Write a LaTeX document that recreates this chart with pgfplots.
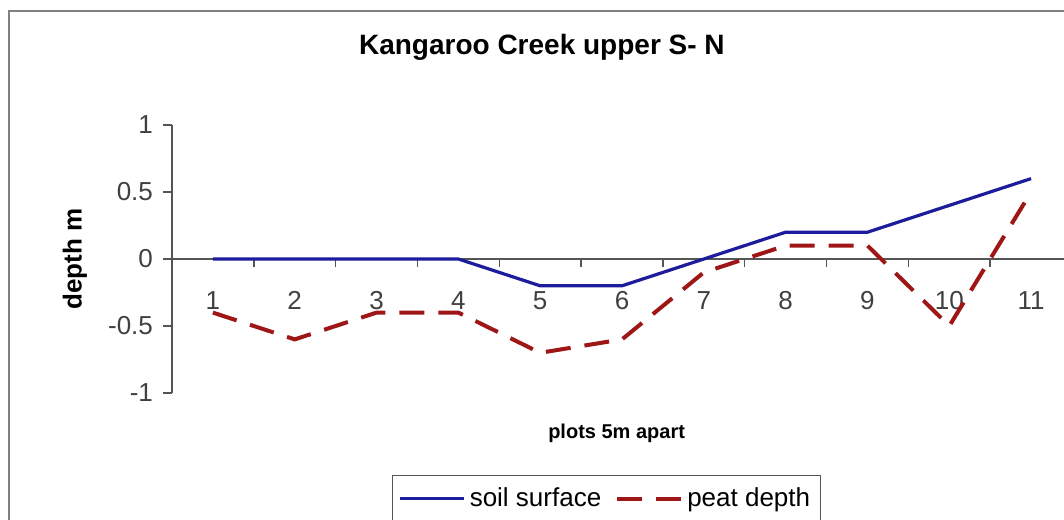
\documentclass[border=0pt]{standalone}
\usepackage{fontspec}
\setmainfont{Liberation Sans}
\usepackage{pgfplots}
\pgfplotsset{compat=1.18}
\definecolor{soil}{HTML}{1C1C9C}
\definecolor{peat}{HTML}{9E1616}
\definecolor{framegray}{HTML}{808080}
\definecolor{axisgray}{HTML}{555555}

\begin{document}
\begin{tikzpicture}
\useasboundingbox (0,0) rectangle (532pt,-259.5pt);
\draw[framegray, line width=0.8pt] (4.5pt,-5.5pt) rectangle (545pt,-275pt);
\begin{axis}[
  at={(86pt,-196.5pt)}, anchor=south west,
  scale only axis, width=450pt, height=134pt,
  xmin=0.5, xmax=11.5, ymin=-1, ymax=1,
  axis x line=middle, axis y line=left,
  axis line style={-, axisgray, line width=0.75pt},
  xtick={1,...,11}, minor xtick={1.5,2.5,...,10.5},
  ytick={-1,-0.5,0,0.5,1}, yticklabels={-1,-0.5,0,0.5,1},
  tick align=outside, major tick length=4.5pt, minor tick length=4pt,
  major x tick style={draw=none},
  minor x tick style={axisgray, line width=0.75pt},
  y tick style={axisgray, line width=0.75pt},
  /pgf/number format/assume math mode=true,
  tick label style={font=\fontsize{13}{15}\selectfont, text=black!75},
  xticklabel style={anchor=base, yshift=-20.5pt},
  yticklabel style={xshift=-1.5pt},
  title={\bfseries Kangaroo Creek upper S- N},
  title style={font=\fontsize{14}{16}\selectfont, at={(axis description cs:0.411,1.22)}, anchor=base},
  ylabel={\bfseries depth m},
  ylabel style={font=\fontsize{13}{15}\selectfont, at={(axis description cs:-0.1078,0.5)}, anchor=center, rotate=0},
  xlabel={\bfseries plots 5m apart},
  xlabel style={font=\fontsize{10}{12}\selectfont, at={(axis description cs:0.494,-0.149)}, anchor=center},
  legend columns=2,
  legend style={at={(axis description cs:0.2444,-0.306)}, anchor=north west,
    draw=axisgray, line width=0.6pt, font=\fontsize{13}{15}\selectfont,
    inner xsep=3pt, inner ysep=4pt,
    /tikz/every even column/.append style={column sep=5pt}},
  legend image code/.code={\draw[#1] (0pt,0pt) -- (32pt,0pt);},
  clip=false,
]
\addplot[soil, line width=1.6pt]
  coordinates {(1,0) (2,0) (3,0) (4,0) (5,-0.2) (6,-0.2) (7,0) (8,0.2) (9,0.2) (10,0.4) (11,0.6)};
\addplot[peat, line width=2pt, dash pattern=on 12.5pt off 7pt]
  coordinates {(1,-0.4) (2,-0.6) (3,-0.4) (4,-0.4) (5,-0.7) (6,-0.6) (7,-0.1) (8,0.1) (9,0.1) (10,-0.5) (11,0.5)};
\legend{soil surface,peat depth}
\end{axis}
\end{tikzpicture}
\end{document}
